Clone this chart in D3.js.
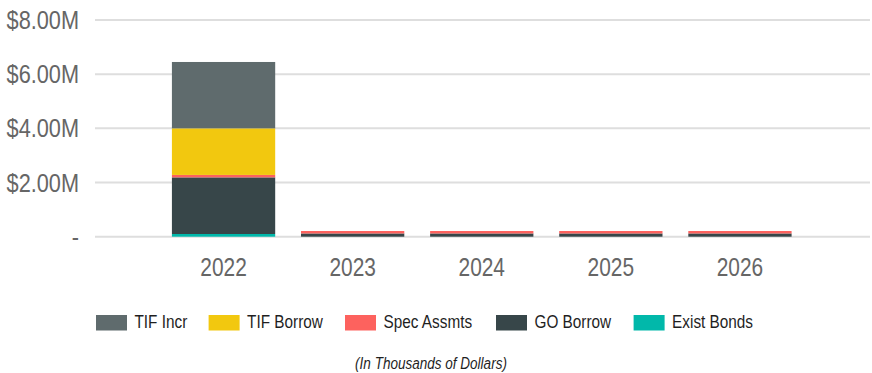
<!DOCTYPE html>
<html>
<head>
<meta charset="utf-8">
<script src="https://cdn.jsdelivr.net/npm/d3@7/dist/d3.min.js"></script>
<style>
  html, body { margin: 0; padding: 0; background: #fff; }
  svg { display: block; }
  text { font-family: "Liberation Sans", Arial, sans-serif; }
</style>
</head>
<body>
<svg id="chart" width="872" height="373"></svg>
<script>
// Funding sources by year, in millions of dollars
const years = ["2022", "2023", "2024", "2025", "2026"];
const seriesNames = ["Exist Bonds", "GO Borrow", "Spec Assmts", "TIF Borrow", "TIF Incr"];
const existBonds = [0.10, 0, 0, 0, 0];
const goBorrow   = [2.09, 0.12, 0.12, 0.12, 0.12];
const specAssmts = [0.09, 0.09, 0.09, 0.09, 0.09];
const tifBorrow  = [1.72, 0, 0, 0, 0];
const tifIncr    = [2.45, 0, 0, 0, 0];
const yTicks = [0, 2, 4, 6, 8];
const legendOrder = ["TIF Incr", "TIF Borrow", "Spec Assmts", "GO Borrow", "Exist Bonds"];
const colors = {
  "Exist Bonds": "#01B8AA",
  "GO Borrow": "#374649",
  "Spec Assmts": "#FD625E",
  "TIF Borrow": "#F2C80F",
  "TIF Incr": "#5F6B6D"
};

// Condensed look: squeeze text horizontally
const NARROW = 0.82;

const valuesBySeries = {
  "Exist Bonds": existBonds,
  "GO Borrow": goBorrow,
  "Spec Assmts": specAssmts,
  "TIF Borrow": tifBorrow,
  "TIF Incr": tifIncr
};
const rows = years.map((yr, i) => {
  const r = { year: yr };
  seriesNames.forEach(s => { r[s] = valuesBySeries[s][i]; });
  return r;
});

const svg = d3.select("#chart");

const x = d3.scaleBand().domain(years).range([159, 804.5]).paddingInner(0.2).paddingOuter(0.1);
const y = d3.scaleLinear().domain([0, 8]).range([236.7, 20]);

// Gridlines
svg.append("g")
  .selectAll("line")
  .data(yTicks)
  .join("line")
  .attr("x1", 95).attr("x2", 870)
  .attr("y1", d => y(d)).attr("y2", d => y(d))
  .attr("stroke", "#dedede")
  .attr("stroke-width", 2);

// Y axis labels
const yAxis = d3.axisLeft(y)
  .tickValues(yTicks)
  .tickSize(0)
  .tickPadding(0)
  .tickFormat(d => d === 0 ? "-" : "$" + d3.format(".2f")(d) + "M");
svg.append("g")
  .attr("transform", "translate(79,0)")
  .call(yAxis)
  .call(g => g.select(".domain").remove())
  .selectAll("text")
  .attr("x", 0)
  .attr("transform", `scale(${NARROW},1)`)
  .attr("font-size", 26.5)
  .attr("fill", "#666666")
  .attr("font-family", "'Liberation Sans', Arial, sans-serif");

// Stacked bars
const stack = d3.stack().keys(seriesNames);
const layers = stack(rows);
svg.append("g")
  .selectAll("g")
  .data(layers)
  .join("g")
  .attr("fill", d => colors[d.key])
  .selectAll("rect")
  .data(d => d)
  .join("rect")
  .attr("x", d => x(d.data.year))
  .attr("width", x.bandwidth())
  .attr("y", d => y(d[1]))
  .attr("height", d => y(d[0]) - y(d[1]));

// X axis labels
const xAxis = d3.axisBottom(x).tickSize(0).tickPadding(0);
svg.append("g")
  .attr("transform", "translate(0,258)")
  .call(xAxis)
  .call(g => g.select(".domain").remove())
  .selectAll("text")
  .attr("y", 0)
  .attr("dy", "0.71em")
  .attr("transform", `scale(${NARROW},1)`)
  .attr("font-size", 25.5)
  .attr("fill", "#666666")
  .attr("font-family", "'Liberation Sans', Arial, sans-serif");

// Legend
const legendX = [96, 208.6, 345, 496, 633.6];
const legend = svg.append("g")
  .selectAll("g")
  .data(legendOrder)
  .join("g")
  .attr("transform", (d, i) => `translate(${legendX[i]},315)`);
legend.append("rect")
  .attr("width", 31).attr("height", 15.5)
  .attr("fill", d => colors[d]);
legend.append("text")
  .attr("transform", `translate(38.5,13.4) scale(${NARROW},1)`)
  .attr("font-size", 18.7)
  .attr("fill", "#1f1f1f")
  .text(d => d);

// Units note
svg.append("text")
  .attr("transform", `translate(431,368.5) scale(${NARROW},1)`)
  .attr("text-anchor", "middle")
  .attr("font-size", 16.5)
  .attr("font-style", "italic")
  .attr("fill", "#1f1f1f")
  .text("(In Thousands of Dollars)");
</script>
</body>
</html>
